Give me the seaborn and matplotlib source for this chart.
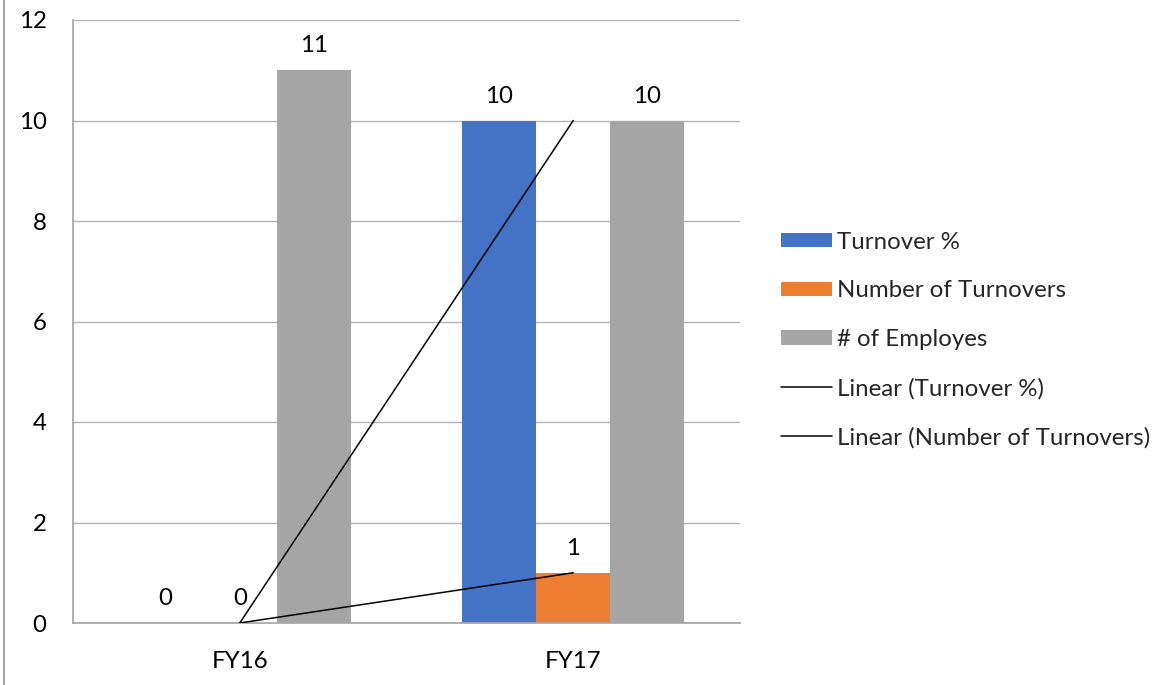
import matplotlib
matplotlib.use("Agg")
import matplotlib.pyplot as plt
import seaborn as sns
import pandas as pd
from matplotlib.patches import Patch
from matplotlib.lines import Line2D

categories = ["FY16", "FY17"]
series = ["Turnover %", "Number of Turnovers", "# of Employes"]
turnover_pct = [0, 10]
num_turnovers = [0, 1]
employees = [11, 10]
colors = ["#4472C4", "#ED7D31", "#A5A5A5"]

sns.set_theme(style="white")
plt.rcParams['font.family'] = ['Lato', 'DejaVu Sans']

rows = []
for s, vals in zip(series, [turnover_pct, num_turnovers, employees]):
    for c, v in zip(categories, vals):
        rows.append({"cat": c, "series": s, "value": v})
df = pd.DataFrame(rows)

fig = plt.figure(figsize=(11.67, 6.85), dpi=100)
ax = fig.add_axes([73/1167, 1-623/685, (740-73)/1167, (623-20)/685])

sns.barplot(data=df, x="cat", y="value", hue="series", palette=colors,
            width=0.667, gap=0, saturation=1, ax=ax, legend=False, errorbar=None,
            linewidth=0, edgecolor="none")

fs = 17.3
for cont in ax.containers:
    ax.bar_label(cont, fmt="%g", padding=10, fontsize=fs, color="#000000")

xs = list(range(len(categories)))
ax.plot(xs, turnover_pct, color="black", lw=1.1, zorder=5)
ax.plot(xs, num_turnovers, color="black", lw=1.1, zorder=5)

ax.set_ylim(0, 12)
ax.set_xlim(-0.5, 1.5)
ax.set_yticks(range(0, 13, 2))
ax.yaxis.grid(True, color="#b3b3b3", lw=1)
ax.set_axisbelow(True)
for s in ["top", "right"]:
    ax.spines[s].set_visible(False)
ax.spines["left"].set_color("#a6a6a6")
ax.spines["bottom"].set_color("#a6a6a6")
ax.tick_params(axis="both", length=0, labelsize=fs, colors="#000000")
ax.tick_params(axis="y", pad=19)
ax.tick_params(axis="x", pad=20)
ax.set_xlabel("")
ax.set_ylabel("")

handles = [Patch(facecolor=c, edgecolor="none") for c in colors]
handles += [Line2D([], [], color="black", lw=1.1), Line2D([], [], color="black", lw=1.1)]
labels = series + ["Linear (Turnover %)", "Linear (Number of Turnovers)"]
fig.legend(handles, labels, loc="center left", bbox_to_anchor=(771/1167, 1-340/685),
           frameon=False, fontsize=fs, handlelength=2.15, handleheight=0.55,
           handletextpad=0.2, labelspacing=1.15, borderaxespad=0)

fig.add_artist(Line2D([3.5/1167, 3.5/1167], [0, 1], color="#a6a6a6", lw=1.5,
                      transform=fig.transFigure))

fig.savefig("out.png", dpi=100)
